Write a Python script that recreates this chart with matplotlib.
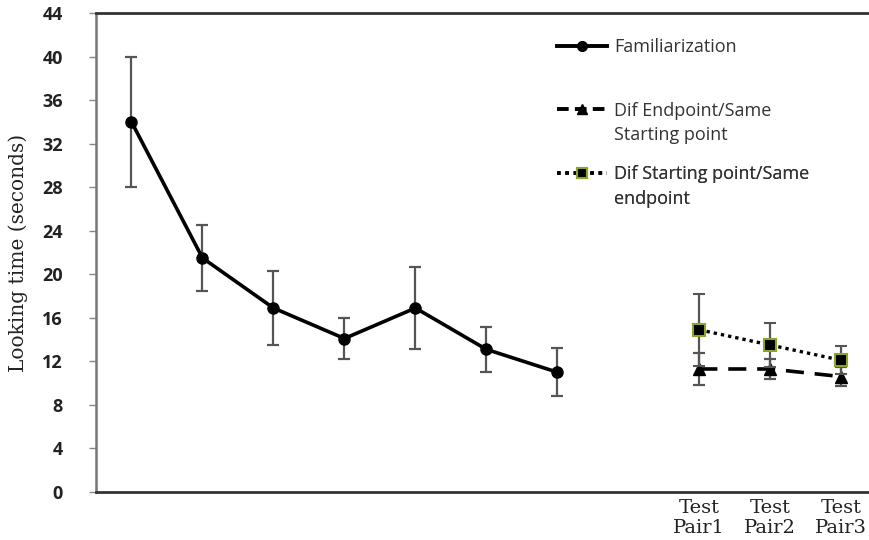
import matplotlib
matplotlib.use("Agg")
import matplotlib.pyplot as plt
from matplotlib.lines import Line2D

# Data
fam_x = [1, 2, 3, 4, 5, 6, 7]
fam_y = [34.0, 21.5, 16.9, 14.1, 16.9, 13.1, 11.0]
fam_err = [6.0, 3.0, 3.4, 1.9, 3.8, 2.1, 2.2]

test_x = [9, 10, 11]
test_labels = ["Test\nPair1", "Test\nPair2", "Test\nPair3"]
dif_end_y = [11.3, 11.3, 10.6]
dif_end_err = [1.5, 0.9, 0.9]
dif_start_y = [14.9, 13.5, 12.1]
dif_start_err = [3.3, 2.0, 1.3]

yticks = list(range(0, 45, 4))
legend_labels = [["Familiarization"],
                 ["Dif Endpoint/Same", "Starting point"],
                 ["Dif Starting point/Same", "endpoint"]]

fig = plt.figure(figsize=(8.69, 5.40), dpi=100)
ax = fig.add_axes([96/869, 48/540, 1 - 96/869, (492-13)/540])

ecol = "#555555"
ax.errorbar(fam_x, fam_y, yerr=fam_err, color="black", lw=2.6, marker="o",
            ms=8, ecolor=ecol, elinewidth=1.6, capsize=4, capthick=1.6, zorder=3)
ax.errorbar(test_x, dif_end_y, yerr=dif_end_err, color="black", lw=2.6,
            ls=(0, (5, 3)), marker="^", ms=8, ecolor=ecol, elinewidth=1.6,
            capsize=4, capthick=1.6, zorder=3)
ax.errorbar(test_x, dif_start_y, yerr=dif_start_err, color="black", lw=2.4,
            ls=(0, (1, 1.2)), marker="s", ms=9, mfc="black", mec="#8aa52a",
            mew=1.5, ecolor=ecol, elinewidth=1.6, capsize=4, capthick=1.6, zorder=4)

ax.set_xlim(0.5, 11.39)
ax.set_ylim(0, 44)
ax.set_yticks(yticks)
ax.set_yticklabels([str(v) for v in yticks], fontsize=13, fontweight="bold",
                   family="Open Sans", color="#222222")
ax.set_xticks(test_x)
ax.set_xticklabels(test_labels, fontsize=14, family="DejaVu Serif",
                   color="#222222", linespacing=1.15)
ax.tick_params(axis="x", length=0, pad=5)
ax.tick_params(axis="y", length=5, width=1, color="#888888", pad=19)

ax.spines["right"].set_visible(False)
ax.spines["left"].set_color("#777777")
ax.spines["left"].set_linewidth(1.8)
ax.spines["bottom"].set_color("#333333")
ax.spines["bottom"].set_linewidth(2)
ax.spines["top"].set_color("#333333")
ax.spines["top"].set_linewidth(2)

ax.set_ylabel("Looking time (seconds)", fontsize=14.5, family="DejaVu Serif",
              color="#222222", labelpad=10)

handles = [
    Line2D([], [], color="black", lw=2.8, marker="o", ms=7),
    Line2D([], [], color="black", lw=2.8, ls=(0, (3, 1.6)), marker="^", ms=7),
    Line2D([], [], color="black", lw=2.6, ls=(0, (1, 1.3)), marker="s", ms=7,
           mfc="black", mec="#8aa52a", mew=1.5),
]
tops = [0.947, 0.815, 0.682]
for h, labs, top in zip(handles, legend_labels, tops):
    hs = [h] + [Line2D([], [], ls="none") for _ in labs[1:]]
    leg = ax.legend(hs, labs, loc="upper left", bbox_to_anchor=(0.596, top),
                    frameon=False, prop={"family": "Open Sans", "size": 13},
                    handlelength=2.8, handletextpad=0.4, borderpad=0,
                    borderaxespad=0, labelspacing=0.35)
    for t in leg.get_texts():
        t.set_color("#333333")
    ax.add_artist(leg)

fig.savefig("out.png", dpi=100)
